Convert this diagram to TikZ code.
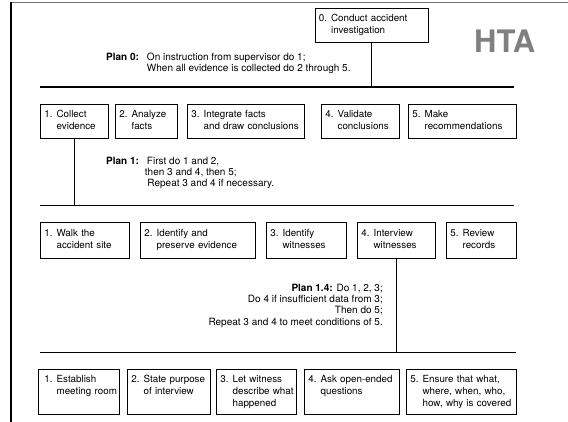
\documentclass[tikz,border=0pt]{standalone}
\usepackage{fontspec}
\setmainfont{TeX Gyre Heros}
\newcommand{\tk}[2]{\begin{tabular}[t]{@{}l@{\hspace{4pt}}l@{}}#1 & #2\end{tabular}}
\begin{document}
\begin{tikzpicture}[x=1pt,y=-1pt,
  every node/.style={font=\fontsize{9.8}{12}\selectfont},
  task/.style={draw, line width=0.9pt, anchor=north west, inner xsep=4pt, inner ysep=0pt, align=left},
  link/.style={line width=1pt},
  bar/.style={line width=1.2pt},
  plan/.style={inner sep=0pt, font=\fontsize{10}{11}\selectfont}]
\useasboundingbox (0,0) rectangle (568,422);
% frame
\draw[line width=1.3pt, black!55] (11,2.5) -- (568,2.5);
\draw[line width=1.2pt] (11,2) -- (11,422);
% title
\node[inner sep=0pt, anchor=base west, text=black!50, font=\fontsize{31}{31}\selectfont\bfseries] (hta) at (474,53) {HTA};
% level 0
\node[task, text width=105pt, minimum height=34pt] (t0) at (314.5,8) {\tk{0.}{Conduct accident\\ & investigation}};
\node[plan, anchor=base west] (p0) at (106,60.5) {\begin{tabular}[t]{@{}l@{\hspace{8pt}}l@{}}\textbf{Plan 0:} & On instruction from supervisor do 1;\\ & When all evidence is collected do 2 through 5.\end{tabular}};
\coordinate (b0l) at (40,87);
\coordinate (b0r) at (514,87);
\draw[bar] (b0l) -- (b0r);
\draw[link] (t0.south) -- (t0.south |- b0l);
% level 1
\node[task, text width=60pt, minimum height=34pt] (r1a) at (40,104) {\tk{1.}{Collect\\ & evidence}};
\node[task, text width=54pt, minimum height=34pt] (r1b) at (115,104) {\tk{2.}{Analyze\\ & facts}};
\node[task, text width=109pt, minimum height=34pt] (r1c) at (187,104) {\tk{3.}{Integrate facts\\ & and draw conclusions}};
\node[task, text width=70pt, minimum height=34pt] (r1d) at (321,104) {\tk{4.}{Validate\\ & conclusions}};
\node[task, text width=100pt, minimum height=34pt] (r1e) at (408,104) {\tk{5.}{Make\\ & recommendations}};
\node[plan, anchor=base west] (p1) at (106,164.5) {\begin{tabular}[t]{@{}l@{\hspace{8pt}}l@{}}\textbf{Plan 1:} & First do 1 and 2,\\ & \hspace*{-2pt}then 3 and 4, then 5;\\ & \hspace*{0.5pt}Repeat 3 and 4 if necessary.\end{tabular}};
\coordinate (b1l) at (40,205.5);
\coordinate (b1r) at (514,205.5);
\draw[bar] (b1l) -- (b1r);
\draw[link] (r1a.south) -- (r1a.south |- b1l);
% level 2
\node[task, text width=81pt, minimum height=36pt] (r2a) at (40,222) {\tk{1.}{Walk the\\ & accident site}};
\node[task, text width=107pt, minimum height=36pt] (r2b) at (140,222) {\tk{2.}{Identify and\\ & preserve evidence}};
\node[task, text width=72pt, minimum height=36pt] (r2c) at (266,222) {\tk{3.}{Identify\\ & witnesses}};
\node[task, text width=70pt, minimum height=36pt] (r2d) at (357,222) {\tk{4.}{Interview\\ & witnesses}};
\node[task, text width=62pt, minimum height=36pt] (r2e) at (446,222) {\tk{5.}{Review\\ & records}};
\node[plan, anchor=base east] (p14) at (383,292) {\begin{tabular}[t]{@{}r@{}}\textbf{Plan 1.4:}\hspace{4pt}Do 1, 2, 3;\\ Do 4 if insufficient data from 3;\\ Then do 5;\\ Repeat 3 and 4 to meet conditions of 5.\end{tabular}};
\coordinate (b2l) at (40,352.5);
\coordinate (b2r) at (516,352.5);
\draw[bar] (b2l) -- (b2r);
\draw[link] (r2d.south) -- (r2d.south |- b2l);
% level 3
\node[task, inner xsep=6pt, text width=69pt, minimum height=45pt] (r3a) at (38,369) {\tk{1.}{Establish\\ & meeting room\\ & }};
\node[task, text width=75pt, minimum height=45pt] (r3b) at (127,369) {\tk{2.}{State purpose\\ & of interview\\ & }};
\node[task, text width=72pt, minimum height=45pt] (r3c) at (216,369) {\tk{3.}{Let witness\\ & describe what\\ & happened}};
\node[task, text width=87pt, minimum height=45pt] (r3d) at (304,369) {\tk{4.}{Ask open-ended\\ & questions\\ & }};
\node[task, text width=102pt, minimum height=45pt] (r3e) at (406,369) {\tk{5.}{Ensure that what,\\ & where, when, who,\\ & how, why is covered}};
\end{tikzpicture}
\end{document}
